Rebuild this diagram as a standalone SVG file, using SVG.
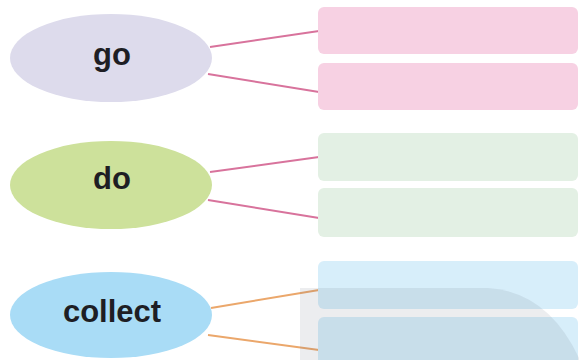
<svg xmlns="http://www.w3.org/2000/svg" width="579" height="360" viewBox="0 0 579 360">
<style>
.lbl{font-family:"Liberation Sans",Arial,sans-serif;font-weight:bold;font-size:31px;fill:#1e1e24;text-anchor:middle}
.pink{stroke:#d8739c;stroke-width:2;fill:none}
.orange{stroke:#eba76b;stroke-width:2;fill:none}
</style>
<rect width="579" height="360" fill="#ffffff"/>
<g id="connectors">
<line class="pink" x1="210" y1="47" x2="319" y2="31"/>
<line class="pink" x1="208" y1="74" x2="319" y2="92"/>
<line class="pink" x1="210" y1="172" x2="319" y2="157"/>
<line class="pink" x1="208" y1="200" x2="319" y2="218"/>
<line class="orange" x1="211" y1="308" x2="319" y2="290"/>
<line class="orange" x1="208" y1="335" x2="319" y2="350"/>
</g>
<g id="node-go">
<ellipse cx="111" cy="58" rx="101" ry="44" fill="#dddbec"/>
<text class="lbl" x="112" y="65">go</text>
</g>
<g id="node-do">
<ellipse cx="111" cy="185" rx="101" ry="44" fill="#cde19b"/>
<text class="lbl" x="112" y="189">do</text>
</g>
<g id="node-collect">
<ellipse cx="111" cy="315" rx="101" ry="43" fill="#a9dcf6"/>
<text class="lbl" x="112" y="322">collect</text>
</g>
<g id="box-go-1"><rect x="318" y="7" width="260" height="47" rx="6" fill="#f7d1e3"/></g>
<g id="box-go-2"><rect x="318" y="63" width="260" height="47" rx="6" fill="#f7d1e3"/></g>
<g id="box-do-1"><rect x="318" y="133" width="260" height="48" rx="6" fill="#e3f0e4"/></g>
<g id="box-do-2"><rect x="318" y="188" width="260" height="49" rx="6" fill="#e3f0e4"/></g>
<g id="box-collect-1"><rect x="318" y="261" width="260" height="48" rx="6" fill="#d7eefa"/></g>
<g id="box-collect-2"><rect x="318" y="317" width="260" height="52" rx="6" fill="#d7eefa"/></g>
<path d="M300,288 L488,288 Q548,292 579,358 L579,360 L300,360 Z" fill="#646e78" fill-opacity="0.12"/>
</svg>
